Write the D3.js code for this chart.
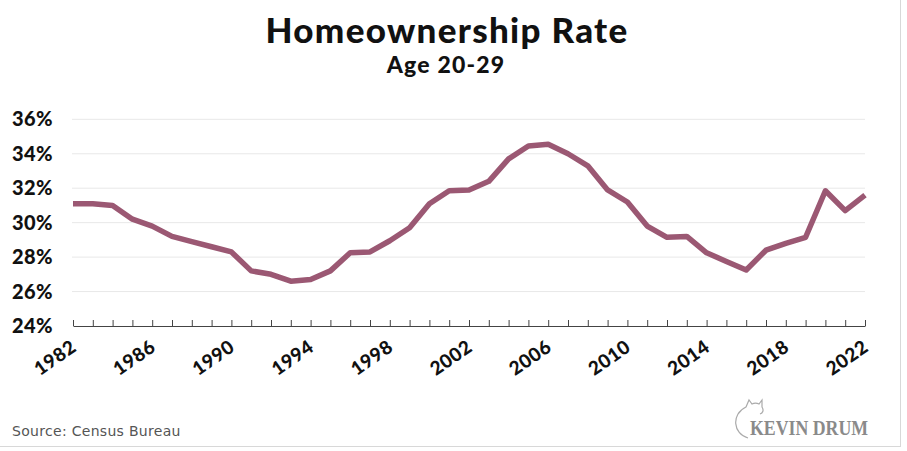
<!DOCTYPE html>
<html><head><meta charset="utf-8">
<script src="https://cdn.jsdelivr.net/npm/d3@7"></script>
<style>body{margin:0;background:#fff}svg{display:block}</style>
</head><body><svg id="c" width="907" height="451"></svg>
<script>
const years = d3.range(1982, 2023);
const rates = [31.1,31.1,31.0,30.2,29.8,29.2,28.9,28.6,28.3,27.2,27.0,26.6,26.7,27.2,28.25,28.3,28.95,29.7,31.1,31.85,31.9,32.4,33.7,34.45,34.55,34.0,33.3,31.9,31.2,29.8,29.15,29.2,28.25,27.75,27.25,28.4,28.8,29.15,31.85,30.7,31.6];
const yTicks = [24,26,28,30,32,34,36];
const xLabels = [1982,1986,1990,1994,1998,2002,2006,2010,2014,2018,2022];
const title = "Homeownership Rate", subtitle = "Age 20-29", source = "Source: Census Bureau";

const svg = d3.select("#c");
const x = d3.scaleLinear().domain([1982,2022]).range([73,865]);
const y = d3.scaleLinear().domain([24,36]).range([326,119.3]);

svg.append("rect").attr("x",-1).attr("y",-2).attr("width",901.5).attr("height",448.5).attr("fill","none").attr("stroke","#d8d8d8");

svg.append("text").attr("x",447).attr("y",43).attr("text-anchor","middle")
  .attr("font-family","Lato").attr("font-weight",900).attr("font-size",35).attr("letter-spacing",1.3).attr("fill","#111").text(title);
svg.append("text").attr("x",446).attr("y",73).attr("text-anchor","middle")
  .attr("font-family","Lato").attr("font-weight",900).attr("font-size",23).attr("letter-spacing",1.2).attr("fill","#111").text(subtitle);

// grid
svg.append("g").selectAll("line").data(yTicks.filter(d=>d>24)).join("line")
  .attr("x1",72).attr("x2",865).attr("y1",d=>y(d)).attr("y2",d=>y(d))
  .attr("stroke","#e8e8e8").attr("stroke-width",1);

// y labels
svg.append("g").selectAll("text").data(yTicks).join("text")
  .attr("x",53).attr("y",d=>y(d)+7).attr("text-anchor","end")
  .attr("font-family","Lato").attr("font-weight",900).attr("font-size",20).attr("letter-spacing",0.4).attr("fill","#111")
  .text(d=>d+"%");

// x axis
const xa = svg.append("g").attr("transform","translate(0,326)")
  .call(d3.axisBottom(x).tickValues(years).tickSize(-6).tickSizeOuter(0).tickFormat(""));
xa.select(".domain").attr("stroke","#444");
xa.selectAll(".tick line").attr("stroke","#444");

svg.append("g").selectAll("text").data(xLabels).join("text")
  .attr("transform",d=>`translate(${x(d)-3},${339}) rotate(-35)`)
  .attr("text-anchor","end").attr("dy","0.7em")
  .attr("font-family","Lato").attr("font-weight",900).attr("font-size",19).attr("letter-spacing",0.5).attr("fill","#111")
  .text(d=>d);

// line
svg.append("path").datum(years.map((yr,i)=>[yr,rates[i]]))
  .attr("fill","none").attr("stroke","#9b5873").attr("stroke-width",5.5)
  .attr("stroke-linejoin","round")
  .attr("d",d3.line().x(d=>x(d[0])).y(d=>y(d[1])));

svg.append("text").attr("x",12).attr("y",436)
  .attr("font-family","DejaVu Sans").attr("font-size",14).attr("fill","#555").attr("letter-spacing",0.3).text(source);

// logo
const lg = svg.append("g").attr("fill","none").attr("stroke","#aaa").attr("stroke-width",1.2);
lg.append("path").attr("d","M748,438 C733,434 731,414 746,407 L749,400 L752,404 C754,403 757,403 759,404 L762,400 L762,407 C764,410 763,413 760,414");
svg.append("text").attr("x",750).attr("y",435).attr("textLength",118).attr("lengthAdjust","spacingAndGlyphs")
  .attr("font-family","Liberation Serif").attr("font-size",21).attr("fill","#8a8a8a").attr("font-weight",700).text("KEVIN DRUM");
</script></body></html>
